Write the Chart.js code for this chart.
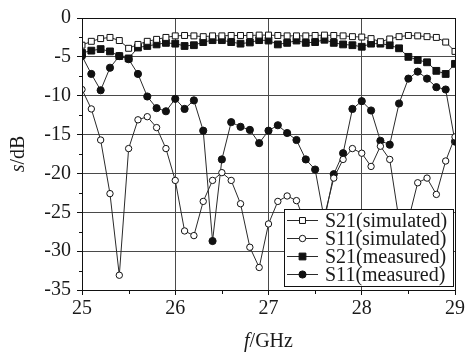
<!DOCTYPE html>
<html>
<head>
<meta charset="utf-8">
<script src="https://cdn.jsdelivr.net/npm/chart.js@4.4.1/dist/chart.umd.min.js"></script>
<style>
  body { margin: 0; background: #fff; }
  #wrap { width: 467px; height: 356px; position: relative; }
</style>
</head>
<body>
<div id="wrap"><canvas id="chart"></canvas></div>
<script>
// frequency points (GHz)
const freqs = [25.0, 25.1, 25.2, 25.3, 25.4, 25.5, 25.6, 25.7, 25.8, 25.9,
  26.0, 26.1, 26.2, 26.3, 26.4, 26.5, 26.6, 26.7, 26.8, 26.9,
  27.0, 27.1, 27.2, 27.3, 27.4, 27.5, 27.6, 27.7, 27.8, 27.9,
  28.0, 28.1, 28.2, 28.3, 28.4, 28.5, 28.6, 28.7, 28.8, 28.9, 29.0];

const s21Sim = [-3.5, -3.0, -2.65, -2.5, -2.9, -3.9, -3.4, -3.0, -2.75, -2.5,
  -2.3, -2.25, -2.3, -2.4, -2.3, -2.3, -2.25, -2.25, -2.25, -2.2,
  -2.2, -2.25, -2.3, -2.3, -2.3, -2.25, -2.2, -2.25, -2.3, -2.4,
  -2.45, -2.65, -3.05, -2.7, -2.4, -2.25, -2.3, -2.4, -2.5, -3.1, -4.3];

const s11Sim = [-9.2, -11.7, -15.7, -22.6, -33.1, -16.8, -13.1, -12.7, -14.1, -16.8,
  -20.9, -27.4, -28.0, -23.6, -20.9, -19.9, -20.9, -23.9, -29.5, -32.1,
  -26.5, -23.6, -22.9, -23.5, -26.5, -28.0, -25.5, -20.6, -18.2, -16.8,
  -17.4, -19.1, -16.5, -18.2, -26.0, -26.0, -21.2, -20.6, -22.7, -18.4, -15.3];

const s21Meas = [-4.5, -4.2, -4.0, -4.3, -4.9, -5.2, -3.8, -3.6, -3.4, -3.2,
  -3.3, -3.6, -3.5, -3.1, -2.85, -2.85, -3.1, -3.3, -3.15, -2.85,
  -2.9, -3.4, -3.2, -2.9, -3.2, -3.1, -2.8, -3.2, -3.4, -3.5,
  -3.7, -3.3, -3.3, -3.5, -3.9, -5.0, -5.4, -5.7, -6.8, -7.2, -5.9];

const s11Meas = [-4.9, -7.2, -9.3, -6.4, -4.9, -5.3, -7.2, -10.1, -11.6, -12.0,
  -10.4, -11.7, -10.6, -14.5, -28.7, -18.2, -13.4, -14.0, -14.4, -16.1,
  -14.5, -13.8, -14.8, -15.7, -18.2, -19.5, -26.0, -20.1, -17.4, -11.7,
  -10.7, -11.9, -15.8, -16.3, -11.0, -7.8, -6.9, -7.8, -8.9, -9.2, -15.9];

const xTicks = [25, 26, 27, 28, 29];
const yTicks = [0, -5, -10, -15, -20, -25, -30, -35];

const FONT = "'Liberation Serif', 'Times New Roman', serif";
const INK = "#1a1a1a";

const toPoints = (vals) => vals.map((v, i) => ({ x: freqs[i], y: v }));

const makeSet = (label, vals, style, filled, radius) => ({
  label: label,
  data: toPoints(vals),
  borderColor: "#2a2a2a",
  borderWidth: 1,
  pointStyle: style,
  pointRadius: radius,
  pointBackgroundColor: filled ? "#111" : "#fff",
  pointBorderColor: "#111",
  pointBorderWidth: 1,
  fill: false,
  tension: 0,
});

// minor ticks, frame, axis titles and boxed legend
const decorations = {
  id: "decorations",
  afterDraw(chart) {
    const ctx = chart.ctx;
    const a = chart.chartArea;
    const xs = chart.scales.x;
    const ys = chart.scales.y;
    ctx.save();
    ctx.strokeStyle = "#111";
    ctx.lineWidth = 1;

    // minor ticks
    ctx.beginPath();
    [25.5, 26.5, 27.5, 28.5].forEach((v) => {
      const px = Math.round(xs.getPixelForValue(v)) + 0.5;
      ctx.moveTo(px, a.bottom);
      ctx.lineTo(px, a.bottom + 4);
    });
    [-2.5, -7.5, -12.5, -17.5, -22.5, -27.5, -32.5].forEach((v) => {
      const py = Math.round(ys.getPixelForValue(v)) + 0.5;
      ctx.moveTo(a.left - 3, py);
      ctx.lineTo(a.left, py);
    });
    ctx.stroke();

    // frame
    ctx.strokeRect(Math.round(a.left) + 0.5, Math.round(a.top) + 0.5,
      Math.round(a.right - a.left), Math.round(a.bottom - a.top));

    // axis titles
    ctx.fillStyle = INK;
    ctx.textBaseline = "middle";
    const cx = (a.left + a.right) / 2;
    ctx.font = "italic 20px " + FONT;
    const fW = ctx.measureText("f").width;
    ctx.font = "20px " + FONT;
    const restW = ctx.measureText("/GHz").width;
    let x0 = cx - (fW + restW) / 2;
    ctx.font = "italic 20px " + FONT;
    ctx.textAlign = "left";
    ctx.fillText("f", x0, 342);
    ctx.font = "20px " + FONT;
    ctx.fillText("/GHz", x0 + fW, 342);

    ctx.save();
    ctx.translate(19, (a.top + a.bottom) / 2);
    ctx.rotate(-Math.PI / 2);
    ctx.font = "italic 20px " + FONT;
    const sW = ctx.measureText("s").width;
    ctx.font = "20px " + FONT;
    const dbW = ctx.measureText("/dB").width;
    x0 = -(sW + dbW) / 2;
    ctx.font = "italic 20px " + FONT;
    ctx.fillText("s", x0, 0);
    ctx.font = "20px " + FONT;
    ctx.fillText("/dB", x0 + sW, 0);
    ctx.restore();

    // legend box
    const bx = 284, by = 209, bw = 169, bh = 77;
    ctx.fillStyle = "#fff";
    ctx.fillRect(bx, by, bw, bh);
    ctx.strokeStyle = "#111";
    ctx.strokeRect(bx + 0.5, by + 0.5, bw, bh);
    chart.data.datasets.forEach((ds, i) => {
      const y = by + 11.5 + i * 18;
      ctx.strokeStyle = "#2a2a2a";
      ctx.beginPath();
      ctx.moveTo(bx + 3, y);
      ctx.lineTo(bx + 34, y);
      ctx.stroke();
      const mx = bx + 18.5;
      ctx.fillStyle = ds.pointBackgroundColor;
      ctx.strokeStyle = "#111";
      ctx.beginPath();
      if (ds.pointStyle === "rect") {
        const h = ds.pointRadius * Math.SQRT1_2;
        ctx.rect(mx - h, y - h, 2 * h, 2 * h);
      } else {
        ctx.arc(mx, y, ds.pointRadius, 0, Math.PI * 2);
      }
      ctx.fill();
      ctx.stroke();
      ctx.fillStyle = INK;
      ctx.font = "20px " + FONT;
      ctx.textAlign = "left";
      ctx.fillText(ds.label, bx + 41, y + 1);
    });
    ctx.restore();
  },
};

new Chart(document.getElementById("chart"), {
  type: "line",
  data: {
    datasets: [
      makeSet("S21(simulated)", s21Sim, "rect", false, 4.2),
      makeSet("S11(simulated)", s11Sim, "circle", false, 3.2),
      makeSet("S21(measured)", s21Meas, "rect", true, 4.8),
      makeSet("S11(measured)", s11Meas, "circle", true, 3.6),
    ],
  },
  options: {
    responsive: true,
    maintainAspectRatio: false,
    devicePixelRatio: 1,
    animation: false,
    layout: { padding: { left: 0, right: 9, top: 15, bottom: 0 } },
    plugins: {
      legend: { display: false },
      tooltip: { enabled: false },
    },
    scales: {
      x: {
        type: "linear",
        min: 25,
        max: 29,
        afterBuildTicks: (s) => { s.ticks = xTicks.map((v) => ({ value: v })); },
        afterFit: (s) => { s.height = 66; },
        ticks: { color: INK, font: { family: FONT, size: 20 }, padding: 2, maxRotation: 0 },
        grid: { color: "#4a4a4a", lineWidth: 1, tickLength: 5, tickColor: "#111" },
        border: { display: true, color: "#111" },
      },
      y: {
        min: -35,
        max: 0,
        afterBuildTicks: (s) => { s.ticks = yTicks.map((v) => ({ value: v })); },
        afterFit: (s) => { s.width = 82; },
        ticks: { color: INK, font: { family: FONT, size: 20 }, padding: 6 },
        grid: { color: "#4a4a4a", lineWidth: 1, tickLength: 5, tickColor: "#111" },
        border: { display: true, color: "#111" },
      },
    },
  },
  plugins: [decorations],
});
</script>
</body>
</html>
